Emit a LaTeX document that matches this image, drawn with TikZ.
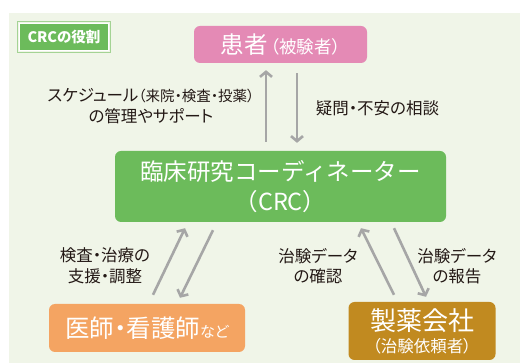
\documentclass[tikz,border=0pt]{standalone}
\usepackage{fontspec}
\setmainfont{Noto Sans CJK JP}
\newfontfamily\pfont{Noto Sans CJK JP}[RawFeature=+palt]
\usetikzlibrary{arrows.meta,calc}
\definecolor{bgcol}{HTML}{F0F5E8}
\definecolor{pinkcol}{HTML}{E48AB5}
\definecolor{greencol}{HTML}{6CBB5B}
\definecolor{edgegreen}{HTML}{A4D394}
\definecolor{orangecol}{HTML}{F4A462}
\definecolor{goldcol}{HTML}{C18A20}
\definecolor{arrgray}{HTML}{A6A6A6}
\definecolor{inkcol}{HTML}{231815}
\tikzset{
  box/.style={rounded corners=6pt, inner sep=0pt, text=white, align=center},
  lbl/.style={text=inkcol, align=center, inner sep=0pt, font=\pfont\fontsize{16.5}{20.5}\selectfont},
  arr/.style={draw=arrgray, line width=2.6pt, -{Straight Barb[length=5pt,width=12pt]}},
}
\begin{document}
\begin{tikzpicture}[x=1pt,y=-1pt]
\useasboundingbox (0,0) rectangle (520,363);
\fill[white] (0,0) rectangle (520,363);
\fill[bgcol] (9,13) rectangle (520,363);

% title
\node (title) [fill=greencol, draw=white, line width=1.4pt, minimum width=89pt, minimum height=27pt, inner sep=0pt,
  text=white, font=\pfont\bfseries\fontsize{14.5}{14.5}\selectfont] at (64,37) {CRCの役割};
\draw[edgegreen, line width=1pt] ([shift={(-1.5,1.5)}]title.south west) rectangle ([shift={(1.5,-1.5)}]title.north east);

% boxes
\node (patient) [box, fill=pinkcol, minimum width=173pt, minimum height=37pt, font=\pfont] at (280.5,44.5)
  {\fontsize{23.5}{23.5}\selectfont 患者\hspace{3pt}\fontsize{17.5}{17.5}\selectfont （被験者）};
\node (crc) [box, fill=greencol, minimum width=331pt, minimum height=71pt,
  font=\fontsize{23.5}{30}\selectfont] at (280.5,186.5)
  {臨床研究コーディネーター\\（CRC）};
\node (doctor) [box, fill=orangecol, minimum width=196pt, minimum height=48pt, font=\pfont] at (147,328)
  {{\fontsize{24.5}{24.5}\selectfont 医師・看護師}{\fontsize{15}{15}\selectfont など}};
\node (sponsor) [box, fill=goldcol, minimum width=147pt, minimum height=58pt,
  font=\pfont\fontsize{26}{22}\selectfont] at (422,331)
  {製薬会社\\{\fontsize{16.5}{16.5}\selectfont （治験依頼者）}};

% arrows patient <-> crc
\draw[arr] ($(crc.north)+(-14.5,-9)$) -- ($(patient.south)+(-14.5,7)$);
\draw[arr] ($(patient.south)+(16.5,10)$) -- ($(crc.north)+(16.5,-8)$);
% crc <-> doctor
\draw[arr] ($(doctor.north)+(6,-9)$) -- ($(crc.south)+(-95.5,6)$);
\draw[arr] ($(crc.south)+(-67.5,8)$) -- ($(doctor.north)+(33,-6)$);
% crc <-> sponsor
\draw[arr] ($(sponsor.north)+(-28,-7)$) -- ($(crc.south)+(80.5,6)$);
\draw[arr] ($(crc.south)+(113.5,6)$) -- ($(sponsor.north)+(4,-5)$);

% labels
\node (l1) [lbl] at (151,106) {スケジュール{\fontsize{14.5}{14.5}\selectfont（来院・検査・投薬）}\\の管理やサポート};
\node (l2) [lbl] at (377.5,108) {疑問・不安の相談};
\node (l3) [lbl] at (105,266) {検査・治療の\\支援・調整};
\node (l4) [lbl] at (318,266) {治験データ\\の確認};
\node (l5) [lbl] at (457,266) {治験データ\\の報告};
\end{tikzpicture}
\end{document}
